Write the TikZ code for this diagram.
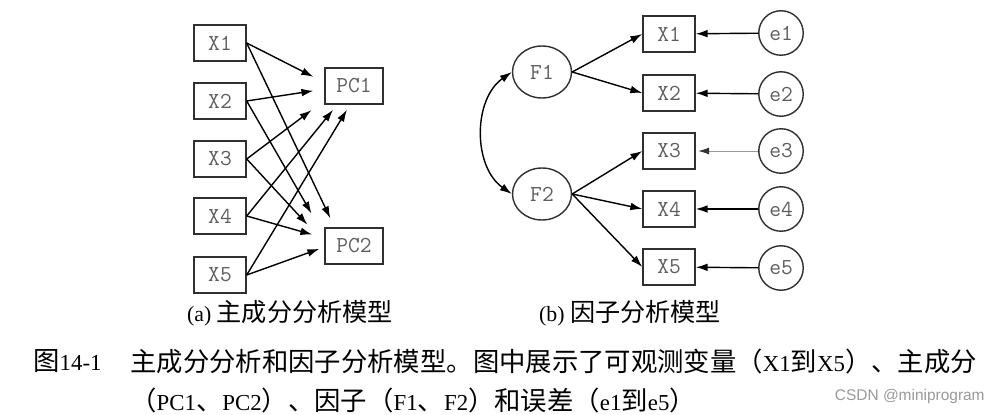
\documentclass[tikz,border=0pt]{standalone}
\usepackage{fontspec}
\setmainfont{Liberation Serif}
\newfontfamily\cjk[Scale=1.154]{Noto Sans CJK SC}
\newfontfamily\wmfont{Liberation Sans}
\usetikzlibrary{arrows.meta,shapes.geometric}
\definecolor{boxgray}{HTML}{303030}
\definecolor{txtgray}{HTML}{5E5E5E}
\tikzset{lhead/.tip={Latex[length=6.8pt,width=4.4pt]}}
\begin{document}
\begin{tikzpicture}[x=0.02cm,y=0.02cm,
  var/.style={draw=boxgray,line width=0.8pt,rectangle,minimum width=1.04cm,minimum height=0.72cm,inner sep=0pt,font=\ttfamily\fontsize{13}{14}\selectfont,text=txtgray},
  pc/.style={var,minimum width=1.16cm},
  fac/.style={var,ellipse,minimum width=1.18cm,minimum height=1.04cm},
  err/.style={var,circle,minimum size=0.89cm},
  arr/.style={-lhead,line width=0.8pt},
  captext/.style={inner sep=0pt,font=\fontsize{13}{17}\selectfont},
  subcap/.style={inner sep=0pt,font=\fontsize{12.4}{16}\selectfont}]
\useasboundingbox (0,0) rectangle (999,-415);
% (a) principal components
\node[var] (L1) at (220,-43) {X1};
\node[var] (L2) at (220,-101) {X2};
\node[var] (L3) at (220,-159) {X3};
\node[var] (L4) at (220,-216) {X4};
\node[var] (L5) at (220,-275) {X5};
\node[pc] (PC1) at (354,-86) {PC1};
\node[pc] (PC2) at (354,-246) {PC2};
\draw[arr,shorten >=7pt] (L1.east) -- (PC1.173);
\draw[arr,shorten >=5.7pt] (L1.east) -- (PC2.136);
\draw[arr,shorten >=6.3pt] (L2.east) -- (PC1.186);
\draw[arr,shorten >=14.6pt] (L2.east) -- (PC2.161);
\draw[arr,shorten >=9.1pt] (L3.east) -- (PC1.206);
\draw[arr,shorten >=14.1pt] (L3.east) -- (PC2.174);
\draw[arr,shorten >=3.7pt] (L4.east) -- (PC1.228);
\draw[arr,shorten >=7.1pt] (L4.east) -- (PC2.165);
\draw[arr,shorten >=3.4pt] (L5.east) -- (PC1.258);
\draw[arr,shorten >=3pt] (L5.east) -- (PC2.182);
% (b) factors
\node[fac] (F1) at (542,-72) {F1};
\node[fac] (F2) at (542,-194) {F2};
\node[var] (R1) at (669,-34) {X1};
\node[var] (R2) at (669,-93) {X2};
\node[var] (R3) at (669,-151) {X3};
\node[var] (R4) at (669,-209) {X4};
\node[var] (R5) at (669,-267) {X5};
\node[err] (E1) at (781,-33) {e1};
\node[err] (E2) at (781,-94) {e2};
\node[err] (E3) at (781,-151) {e3};
\node[err] (E4) at (781,-209) {e4};
\node[err] (E5) at (781,-268) {e5};
\draw[lhead-lhead,line width=0.8pt] (F1.west) to[out=215,in=145] (F2.west);
\draw[arr] (F1.east) -- (R1.west);
\draw[arr] (F1.east) -- (R2.west);
\draw[arr] (F2.east) -- (R3.west);
\draw[arr] (F2.east) -- (R4.west);
\draw[arr] (F2.east) -- (R5.west);
\draw[arr] (E1) -- (R1);
\draw[arr] (E2) -- (R2);
\draw[-{Latex[length=6.2pt,width=4pt,color=black!80]},line width=0.4pt,draw=black!40,shorten >=1.5pt] (E3) -- (R3);
\draw[arr] (E4) -- (R4);
\draw[arr] (E5) -- (R5);
% captions
\node[subcap] (capa) at (290,-313) {(a) {\cjk 主成分分析模型}};
\node[subcap] (capb) at (630,-313) {(b) {\cjk 因子分析模型}};
\node[captext,anchor=west] (fig) at (33,-361) {{\cjk 图}14-1};
\node[captext,anchor=west] (line1) at (130,-361) {{\cjk 主成分分析和因子分析模型。图中展示了可观测变量（}X1{\cjk 到}X5{\cjk ）、主成分}};
\node[captext,anchor=west] (line2) at (130,-400) {{\cjk （}PC1{\cjk 、}PC2{\cjk ）、因子（}F1{\cjk 、}F2{\cjk ）和误差（}e1{\cjk 到}e5{\cjk ）}};
\node[font=\wmfont\fontsize{8.8}{10}\selectfont,text=black!40,anchor=east,inner sep=0pt] (wm) at (985,-396) {CSDN @miniprogram};
\end{tikzpicture}
\end{document}
